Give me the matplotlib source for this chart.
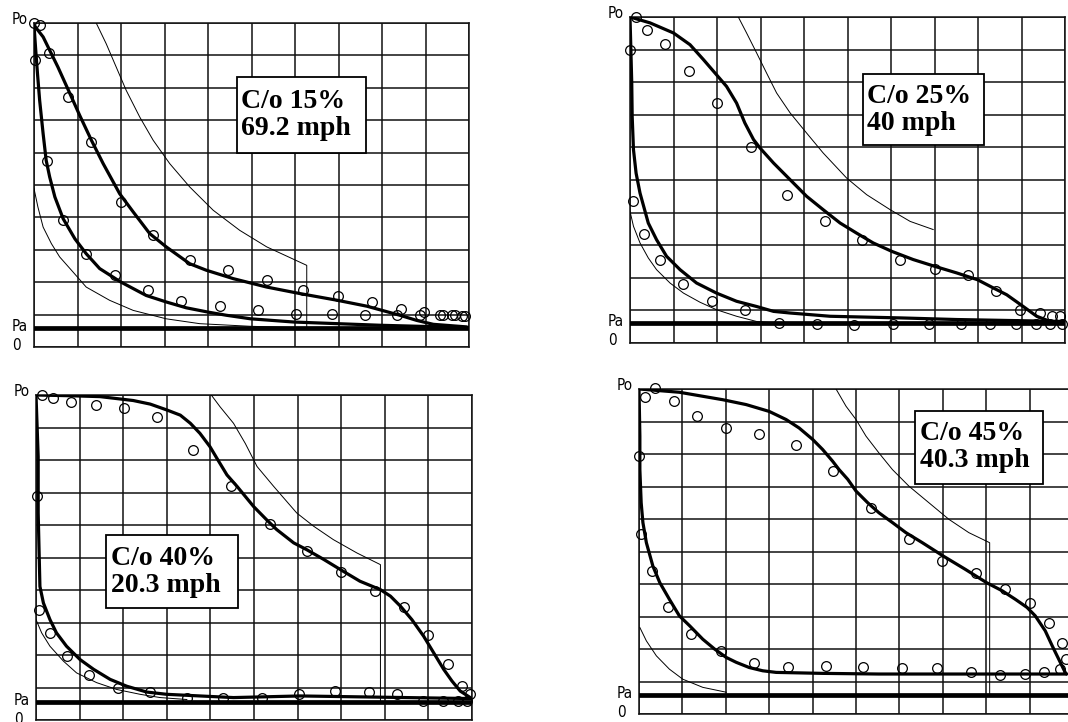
import matplotlib
matplotlib.use("Agg")
import matplotlib.pyplot as plt
from matplotlib.patches import Rectangle

# indicator diagrams, grid units: x 0..10 (stroke), y 0..10 (0 = vacuum, 10 = Po)
labels = ["C/o 15%\n69.2 mph", "C/o 25%\n40 mph", "C/o 40%\n20.3 mph", "C/o 45%\n40.3 mph"]
pa_level = [0.59, 0.61, 0.56, 0.58]

p1_expansion = [(0, 9.93), (0.21, 9.57), (0.55, 8.64), (0.86, 7.72), (1.05, 7.15), (1.32, 6.38),
                (1.59, 5.66), (1.97, 4.73), (2.28, 4.17), (2.66, 3.5), (3.04, 3.09), (3.58, 2.57),
                (3.96, 2.37), (4.58, 2.11), (5.35, 1.85), (6.11, 1.65), (6.98, 1.44), (7.65, 1.26),
                (8.41, 0.98), (8.8, 0.82), (9.18, 0.7), (9.95, 0.62)]
p1_compression = [(9.95, 0.6), (7.98, 0.67), (6.98, 0.72), (5.98, 0.77), (4.98, 0.87), (4.42, 0.98),
                  (3.99, 1.08), (3.5, 1.21), (3.04, 1.39), (2.58, 1.59), (1.99, 2.01), (1.51, 2.42),
                  (1.2, 2.88), (0.94, 3.34), (0.67, 3.96), (0.48, 4.63), (0.36, 5.25), (0.28, 5.76),
                  (0.21, 6.58), (0.13, 7.61), (0.08, 8.44), (0.04, 9.16), (0, 9.93)]
p1_points_up = [(0.13, 9.93), (0.35, 9.07), (0.78, 7.72), (1.3, 6.33), (1.99, 4.48), (2.74, 3.45),
                (3.58, 2.7), (4.46, 2.39), (5.35, 2.08), (6.19, 1.77), (6.99, 1.57), (7.76, 1.39),
                (8.44, 1.18), (8.96, 1.08), (9.41, 0.98), (9.68, 0.98), (9.91, 0.95)]
p1_points_low = [(0.0, 10.0), (0.03, 8.85), (0.31, 5.73), (0.67, 3.91), (1.19, 2.88), (1.86, 2.23),
                 (2.62, 1.75), (3.39, 1.41), (4.27, 1.26), (5.15, 1.13), (6.02, 1.03), (6.86, 1.03),
                 (7.62, 0.98), (8.34, 1.0), (8.87, 1.0), (9.33, 0.98), (9.6, 0.98), (9.85, 0.95)]
p1_theory_up = [(1.43, 10.0), (1.66, 9.36), (1.89, 8.64), (2.12, 7.92), (2.43, 7.1), (2.74, 6.38),
                (3.12, 5.66), (3.58, 4.94), (4.12, 4.22), (4.73, 3.6), (5.35, 3.09), (6.27, 2.52),
                (6.27, 0.59)]
p1_theory_low = [(0, 4.89), (0.09, 4.32), (0.21, 3.7), (0.4, 3.19), (0.59, 2.78), (0.9, 2.31),
                 (1.2, 1.85), (1.74, 1.44), (2.28, 1.13), (3.04, 0.87), (3.81, 0.72), (4.96, 0.64),
                 (5.96, 0.6)]

p2_expansion = [(0, 10), (0.46, 9.82), (1.0, 9.51), (1.38, 9.15), (1.69, 8.69), (2.02, 8.18),
                (2.22, 7.87), (2.45, 7.36), (2.64, 6.75), (2.84, 6.24), (2.99, 5.98), (3.3, 5.52),
                (3.68, 5.01), (4.06, 4.5), (4.44, 4.09), (4.83, 3.68), (5.21, 3.37), (5.59, 3.07),
                (6.02, 2.81), (6.51, 2.56), (7.01, 2.35), (7.51, 2.15), (7.99, 1.94), (8.35, 1.69),
                (8.66, 1.48), (9.04, 1.12), (9.35, 0.82), (9.66, 0.66), (9.96, 0.61)]
p2_compression = [(9.96, 0.66), (7.51, 0.72), (6.21, 0.77), (4.6, 0.82), (3.68, 0.92), (3.3, 0.97),
                  (2.91, 1.12), (2.45, 1.28), (1.99, 1.53), (1.53, 1.84), (1.15, 2.25), (0.84, 2.66),
                  (0.61, 3.17), (0.42, 3.68), (0.23, 4.6), (0.14, 5.21), (0.08, 5.93), (0.05, 6.95),
                  (0.04, 7.98), (0.02, 9.0), (0, 10)]
p2_points_up = [(0.14, 10.0), (0.38, 9.61), (0.8, 9.18), (1.36, 8.33), (2.01, 7.36), (2.78, 6.0),
                (3.62, 4.53), (4.48, 3.75), (5.34, 3.15), (6.21, 2.54), (7.0, 2.27), (7.76, 2.1),
                (8.41, 1.58), (8.97, 1.02), (9.43, 0.92), (9.69, 0.84), (9.89, 0.84)]
p2_points_low = [(0, 9.0), (0.06, 4.37), (0.32, 3.34), (0.69, 2.56), (1.21, 1.81), (1.88, 1.28),
                 (2.64, 1.02), (3.43, 0.61), (4.29, 0.58), (5.16, 0.56), (6.04, 0.58), (6.87, 0.58),
                 (7.62, 0.58), (8.28, 0.58), (8.87, 0.58), (9.33, 0.58), (9.66, 0.58), (9.92, 0.58)]
p2_theory_up = [(2.49, 10), (2.68, 9.51), (2.91, 8.9), (3.14, 8.28), (3.37, 7.67), (3.68, 7.06),
                (4.06, 6.44), (4.44, 5.83), (4.98, 5.06), (5.44, 4.55), (5.98, 4.09), (6.44, 3.73),
                (6.97, 3.48)]
p2_theory_low = [(0, 4.04), (0.08, 3.58), (0.23, 3.07), (0.42, 2.61), (0.61, 2.25), (0.92, 1.84),
                 (1.23, 1.53), (1.61, 1.25), (1.99, 1.02), (2.45, 0.82), (2.91, 0.66), (3.37, 0.61)]

p3_expansion = [(0, 10), (0.7, 9.98), (1.47, 9.95), (2.23, 9.83), (2.62, 9.72), (3.0, 9.54),
                (3.31, 9.38), (3.54, 9.13), (3.76, 8.82), (3.99, 8.41), (4.15, 8.05), (4.38, 7.54),
                (4.61, 7.19), (4.99, 6.57), (5.29, 6.16), (5.52, 5.86), (5.91, 5.45), (6.21, 5.24),
                (6.6, 4.94), (6.98, 4.63), (7.43, 4.27), (7.9, 4.01), (8.13, 3.81), (8.36, 3.5),
                (8.62, 3.09), (8.89, 2.58), (9.12, 2.07), (9.35, 1.56), (9.54, 1.2), (9.73, 0.89),
                (9.96, 0.69)]
p3_compression = [(9.96, 0.66), (6.06, 0.74), (4.53, 0.69), (3.76, 0.74), (3.0, 0.79), (2.54, 0.86),
                  (2.08, 1.04), (1.7, 1.25), (1.32, 1.56), (1.01, 1.86), (0.7, 2.27), (0.47, 2.68),
                  (0.32, 3.09), (0.17, 3.6), (0.09, 4.11), (0.05, 6.37), (0.05, 8.1), (0, 10)]
p3_points_up = [(0.13, 10.0), (0.4, 9.9), (0.8, 9.8), (1.37, 9.69), (2.02, 9.59), (2.77, 9.31),
                (3.61, 8.31), (4.47, 7.21), (5.36, 6.04), (6.21, 5.19), (6.99, 4.54), (7.78, 3.98),
                (8.45, 3.47), (9.0, 2.63), (9.44, 1.71), (9.76, 1.04), (9.96, 0.79)]
p3_points_low = [(0.02, 6.9), (0.08, 3.38), (0.32, 2.68), (0.7, 1.97), (1.22, 1.38), (1.89, 0.99),
                 (2.62, 0.86), (3.46, 0.69), (4.3, 0.69), (5.18, 0.69), (6.04, 0.79), (6.86, 0.89),
                 (7.64, 0.86), (8.28, 0.79), (8.88, 0.58), (9.33, 0.58), (9.69, 0.58), (9.89, 0.58)]
p3_theory_up = [(4.02, 10), (4.22, 9.64), (4.53, 9.13), (4.8, 8.51), (5.07, 7.8), (5.45, 7.19),
                (5.98, 6.37), (6.37, 5.96), (6.82, 5.55), (7.36, 5.14), (7.9, 4.78), (7.9, 0.56)]
p3_theory_low = [(0, 3.09), (0.13, 2.68), (0.32, 2.27), (0.63, 1.81), (0.93, 1.45), (1.39, 1.15),
                 (1.85, 0.94), (2.39, 0.79), (2.85, 0.69), (3.46, 0.63)]

p4_expansion = [(0, 10), (0.93, 9.9), (1.93, 9.67), (2.47, 9.52), (3.0, 9.31), (3.39, 9.06),
                (3.69, 8.8), (4.0, 8.45), (4.23, 8.14), (4.46, 7.78), (4.61, 7.52), (4.81, 7.22),
                (5.0, 6.86), (5.27, 6.5), (5.53, 6.19), (5.84, 5.89), (6.15, 5.58), (6.53, 5.27),
                (7.01, 4.86), (7.52, 4.45), (8.01, 4.04), (8.37, 3.79), (8.67, 3.53), (8.94, 3.28),
                (9.13, 3.02), (9.36, 2.56), (9.52, 2.1), (9.67, 1.69), (9.82, 1.28), (9.85, 1.23)]
p4_compression = [(9.85, 1.23), (8.06, 1.23), (5.53, 1.23), (4.23, 1.25), (3.16, 1.28), (2.85, 1.33),
                  (2.54, 1.43), (2.24, 1.59), (2.01, 1.74), (1.74, 2.0), (1.47, 2.3), (1.17, 2.71),
                  (0.93, 3.02), (0.7, 3.53), (0.48, 4.04), (0.32, 4.55), (0.17, 5.27), (0.09, 5.89),
                  (0.05, 6.5), (0.02, 7.52), (0.02, 8.55), (0, 10)]
p4_points_up = [(0.38, 10.03), (0.8, 9.62), (1.34, 9.18), (2.01, 8.8), (2.77, 8.62), (3.62, 8.29),
                (4.48, 7.47), (5.34, 6.35), (6.21, 5.37), (6.99, 4.71), (7.77, 4.33), (8.43, 3.84),
                (9.0, 3.43), (9.44, 2.81), (9.75, 2.2), (9.85, 1.7)]
p4_points_low = [(0.13, 9.75), (0, 7.95), (0.05, 5.55), (0.3, 4.4), (0.67, 3.28), (1.2, 2.46),
                 (1.89, 1.94), (2.64, 1.57), (3.44, 1.45), (4.31, 1.48), (5.17, 1.45), (6.05, 1.41),
                 (6.87, 1.43), (7.64, 1.3), (8.31, 1.2), (8.89, 1.23), (9.34, 1.28), (9.69, 1.38)]
p4_theory_up = [(4.54, 10), (4.77, 9.47), (5.0, 9.06), (5.23, 8.55), (5.53, 8.03), (5.84, 7.52),
                (6.22, 7.01), (6.68, 6.5), (7.14, 5.99), (7.6, 5.58), (8.08, 5.27), (8.08, 0.58)]
p4_theory_low = [(0.02, 2.66), (0.17, 2.25), (0.4, 1.79), (0.7, 1.38), (1.01, 1.07), (1.47, 0.82),
                 (2.01, 0.67)]

panels = [
    (p1_expansion, p1_compression, p1_points_up, p1_points_low, p1_theory_up, p1_theory_low),
    (p2_expansion, p2_compression, p2_points_up, p2_points_low, p2_theory_up, p2_theory_low),
    (p3_expansion, p3_compression, p3_points_up, p3_points_low, p3_theory_up, p3_theory_low),
    (p4_expansion, p4_compression, p4_points_up, p4_points_low, p4_theory_up, p4_theory_low),
]

# layout: pixel boxes of each grid (left, top, right, bottom) and label boxes in grid units
W, H = 1068, 722
grid_px = [(34, 23, 469, 347), (630, 17, 1065, 343), (36, 395, 472, 720), (639, 389, 1073, 714)]
box_pos = [(4.67, 5.99, 2.96, 2.34), (5.35, 6.07, 2.79, 2.18),
           (1.61, 3.44, 3.02, 2.25), (6.37, 7.08, 2.94, 2.25)]

fig = plt.figure(figsize=(W / 100, H / 100), dpi=100)
fig.patch.set_facecolor("white")


def xy(pts):
    return [p[0] for p in pts], [p[1] for p in pts]


for i, (exp_, comp, pts_up, pts_low, th_up, th_low) in enumerate(panels):
    l, t, r, b = grid_px[i]
    ax = fig.add_axes([l / W, 1 - b / H, (r - l) / W, (b - t) / H])
    ax.set_xlim(0, 10)
    ax.set_ylim(0, 10)
    ax.set_xticks(range(11))
    ax.set_yticks(range(11))
    ax.tick_params(length=0, labelbottom=False, labelleft=False)
    ax.grid(True, color="#111111", lw=1.1)
    ax.set_axisbelow(True)
    for s in ax.spines.values():
        s.set_color("#111111")
        s.set_linewidth(1.1)

    ax.axhline(pa_level[i], color="black", lw=3.4, zorder=3)

    for th in (th_up, th_low):
        x, y = xy(th)
        ax.plot(x, y, color="black", lw=0.7, zorder=3)

    for curve in (exp_, comp):
        x, y = xy(curve)
        ax.plot(x, y, color="black", lw=2.3, zorder=4,
                solid_joinstyle="round", solid_capstyle="round")

    for pts in (pts_up, pts_low):
        x, y = xy(pts)
        ax.plot(x, y, "o", ms=7, mfc="none", mec="black", mew=0.9, zorder=5, clip_on=False)

    bx, by, bw, bh = box_pos[i]
    ax.add_patch(Rectangle((bx, by), bw, bh, fc="white", ec="black", lw=1.3, zorder=6))
    ax.text(bx + 0.1, by + bh / 2, labels[i], ha="left", va="center", fontsize=20,
            fontweight="bold", family=["Liberation Serif", "DejaVu Serif"],
            linespacing=1.1, zorder=7)

    # Po / Pa / 0 marks left of each grid
    trans = ax.get_yaxis_transform()
    off = -22 / (r - l)
    lab_font = dict(fontsize=11, family=["Liberation Sans Narrow", "DejaVu Sans"],
                    fontstretch="condensed", ha="left", transform=trans, clip_on=False)
    ax.text(off, 10.1, "Po", va="center", **lab_font)
    ax.text(off, pa_level[i] + 0.05, "Pa", va="center", **lab_font)
    ax.text(off, pa_level[i] - 0.3, "0", va="top", **lab_font)

fig.savefig("out.png", dpi=100, facecolor="white")
